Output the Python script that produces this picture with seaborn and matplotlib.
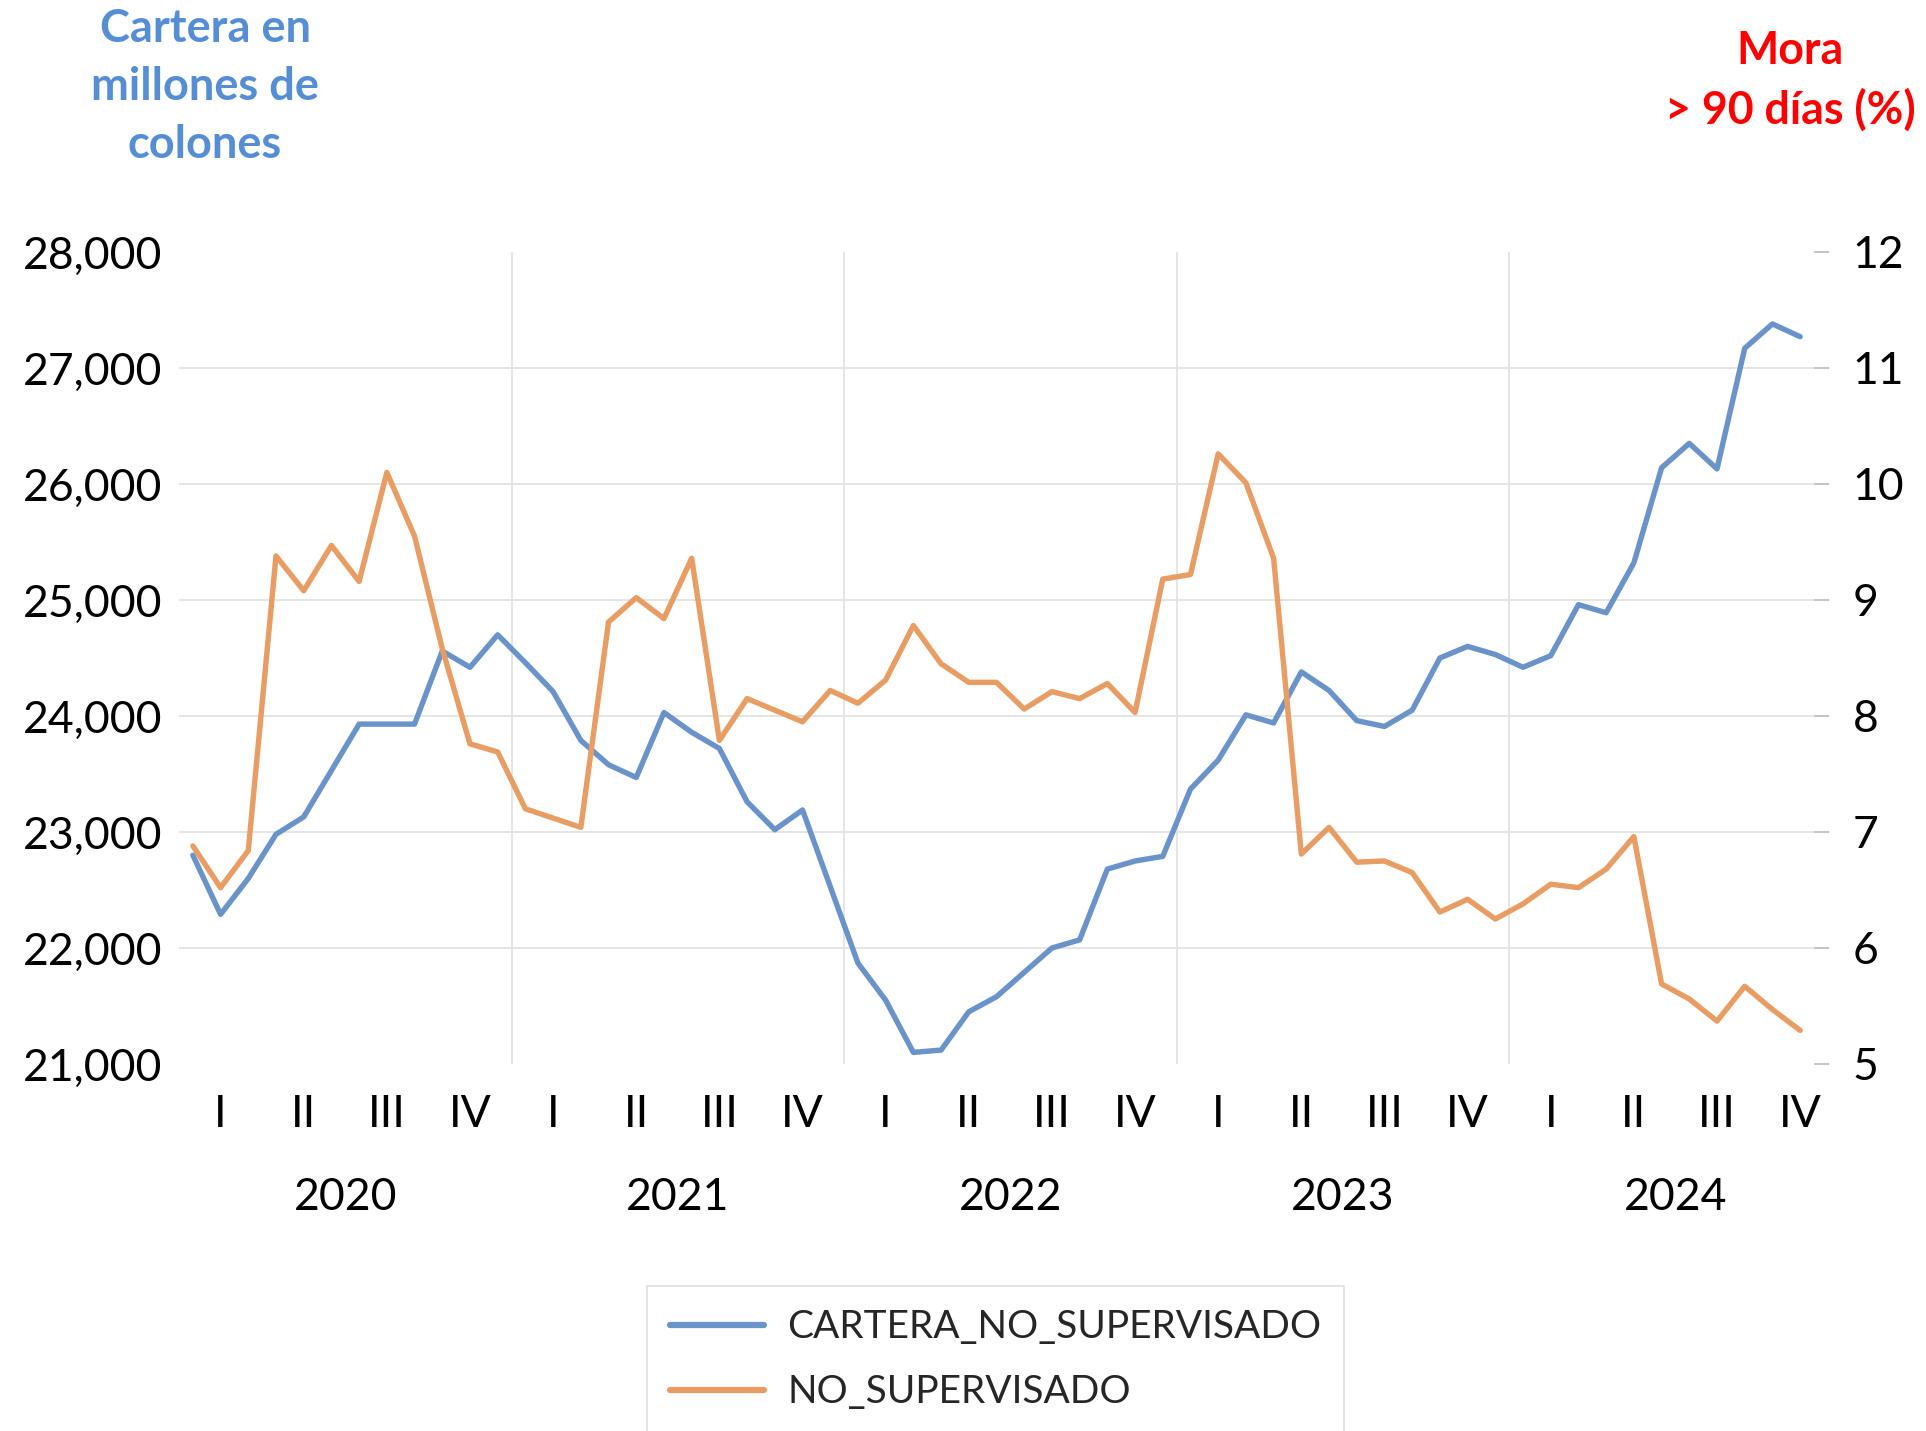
import matplotlib
matplotlib.use("Agg")
import matplotlib.pyplot as plt
import matplotlib.ticker as mticker
import seaborn as sns
import pandas as pd
import numpy as np

# ---- data (monthly, Jan 2020 - Nov 2024) ----
years = ["2020", "2021", "2022", "2023", "2024"]
quarters = ["I", "II", "III", "IV"]
cartera_no_supervisado = [
    22800, 22290, 22600, 22980, 23130, 23530, 23930, 23930, 23930, 24560, 24420, 24700,
    24460, 24210, 23790, 23580, 23470, 24030, 23860, 23720, 23260, 23020, 23190, 22530,
    21870, 21550, 21100, 21120, 21450, 21580, 21790, 22000, 22070, 22680, 22750, 22790,
    23370, 23620, 24010, 23940, 24380, 24220, 23960, 23910, 24050, 24500, 24600, 24530,
    24420, 24520, 24960, 24890, 25320, 26140, 26350, 26130, 27170, 27380, 27270,
]
no_supervisado = [
    6.88, 6.52, 6.84, 9.38, 9.08, 9.47, 9.16, 10.10, 9.55, 8.58, 7.76, 7.69,
    7.20, 7.12, 7.04, 8.81, 9.02, 8.84, 9.36, 7.79, 8.15, 8.05, 7.95, 8.22,
    8.11, 8.31, 8.78, 8.45, 8.29, 8.29, 8.06, 8.21, 8.15, 8.28, 8.03, 9.18,
    9.22, 10.26, 10.01, 9.36, 6.81, 7.04, 6.74, 6.75, 6.65, 6.31, 6.42, 6.25,
    6.38, 6.55, 6.52, 6.68, 6.96, 5.69, 5.56, 5.37, 5.67, 5.47, 5.29,
]
left_ticks = [21000, 22000, 23000, 24000, 25000, 26000, 27000, 28000]
right_ticks = [5, 6, 7, 8, 9, 10, 11, 12]

n = len(cartera_no_supervisado)
df = pd.DataFrame({
    "idx": np.arange(n),
    "CARTERA_NO_SUPERVISADO": cartera_no_supervisado,
    "NO_SUPERVISADO": no_supervisado,
})

BLUE = "#6A93C9"
ORANGE = "#E79D63"
GRID = "#E3E3E3"

sns.set_theme(style="white")
plt.rcParams["font.family"] = ["Lato", "DejaVu Sans"]

W, H = 1926, 1431
fig = plt.figure(figsize=(W / 100, H / 100), dpi=100)
L, R, T, B = 179, 1814, 252, 1064
ax = fig.add_axes([L / W, 1 - B / H, (R - L) / W, (B - T) / H])
ax2 = ax.twinx()

# gridlines
for v in left_ticks[1:-1]:
    ax.axhline(v, color=GRID, lw=1.3, zorder=0)
for b in range(12, n, 12):
    ax.axvline(b - 0.5, color=GRID, lw=1.3, zorder=0)

sns.lineplot(data=df, x="idx", y="CARTERA_NO_SUPERVISADO", ax=ax, color=BLUE,
             linewidth=3.9, label="CARTERA_NO_SUPERVISADO", legend=False, zorder=3)
sns.lineplot(data=df, x="idx", y="NO_SUPERVISADO", ax=ax2, color=ORANGE,
             linewidth=3.9, label="NO_SUPERVISADO", legend=False, zorder=3)

ax.set_xlim(-0.5, n - 0.5)
ax.set_ylim(left_ticks[0], left_ticks[-1])
ax2.set_ylim(right_ticks[0], right_ticks[-1])
ax.set_yticks(left_ticks)
ax2.set_yticks(right_ticks)
ax.yaxis.set_major_formatter(mticker.StrMethodFormatter("{x:,.0f}"))
ax.set_xticks([])
ax.set_xlabel("")
ax.set_ylabel("")
ax2.set_ylabel("")
for a in (ax, ax2):
    for s in a.spines.values():
        s.set_visible(False)
ax.tick_params(axis="y", length=0, pad=12, labelsize=32, labelcolor="black")
ax2.tick_params(axis="y", length=11, width=1.3, color="#BFBFBF", pad=17,
                labelsize=32, labelcolor="black")
for lab in ax.get_yticklabels() + ax2.get_yticklabels():
    lab.set_va("center_baseline")

# category labels (quarters / years)
xt = ax.get_xaxis_transform()
for yi, yr in enumerate(years):
    for qi, q in enumerate(quarters):
        ax.text(12 * yi + 3 * qi + 1, -0.062, q, transform=xt, ha="center",
                va="center", fontsize=32, color="black")
    ax.text(12 * yi + 5.5, -0.165, yr, transform=xt, ha="center", va="center",
            fontsize=32, color="black")

# axis titles
fig.text(205 / W, 1 - 87 / H, "Cartera en\nmillones de\ncolones", ha="center",
         va="center", fontsize=32.5, fontweight="bold", color="#558ED5",
         linespacing=1.47)
fig.text(1790 / W, 1 - 81 / H, "Mora\n> 90 días (%)", ha="center", va="center",
         fontsize=32.2, fontweight="bold", color="#FF0000", linespacing=1.47)

# legend
h1 = ax.get_lines()[-1]
h2 = ax2.get_lines()[-1]
leg = fig.legend([h1, h2], ["CARTERA_NO_SUPERVISADO", "NO_SUPERVISADO"],
                 loc="upper left", bbox_to_anchor=(647 / W, 1 - 1286 / H),
                 fontsize=28, frameon=True, fancybox=False, shadow=False,
                 handlelength=2.4, handletextpad=0.6, labelspacing=0.74,
                 borderpad=0.6, borderaxespad=0)
leg.get_frame().set_edgecolor("#D9D9D9")
leg.get_frame().set_linewidth(1.3)
for line in leg.get_lines():
    line.set_linewidth(4.5)

fig.savefig("out.png", dpi=100)
